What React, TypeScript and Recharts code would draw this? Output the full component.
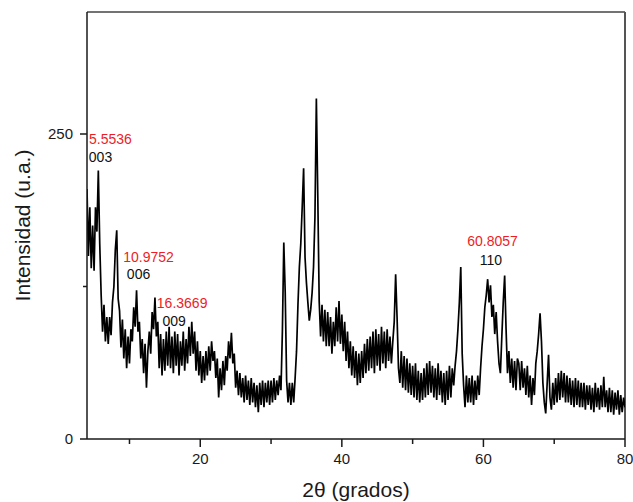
import React from "react";
import {
  Line,
  LineChart,
  ReferenceDot,
  ReferenceLine,
  XAxis,
  YAxis,
} from "recharts";

// scan settings of the diffractogram (2θ start and step, degrees)
const scanStart = 4;
const scanStep = 0.2;

// intensity, one row per degree (4.0, 4.2 ... 4.8)
const intensity = [
  205, 150, 190, 140, 175,
  138, 190, 170, 220, 160,
  118, 88, 110, 80, 100,
  78, 100, 85, 112, 125,
  155, 171, 115, 105, 75,
  98, 66, 90, 58, 84,
  62, 90, 80, 108, 92,
  122, 88, 96, 66, 82,
  54, 78, 42, 72, 88,
  70, 104, 90, 116, 84,
  96, 58, 86, 52, 82,
  56, 88, 60, 92, 58,
  84, 54, 88, 60, 86,
  52, 80, 60, 88, 56,
  82, 62, 92, 68, 96,
  70, 88, 56, 80, 52,
  72, 46, 68, 48, 72,
  52, 76, 56, 80, 64,
  72, 50, 66, 34, 58,
  40, 64, 44, 68, 56,
  80, 66, 87, 62, 70,
  42, 56, 36, 54, 34,
  50, 30, 52, 32, 48,
  28, 50, 30, 46, 26,
  44, 22, 46, 28, 48,
  26, 46, 30, 48, 28,
  48, 30, 50, 32, 48,
  36, 52, 40, 88, 161,
  120, 48, 30, 46, 28,
  46, 30, 50, 72, 110,
  141, 160, 190, 222, 149,
  128, 112, 97, 106, 120,
  141, 182, 279, 200, 113,
  84, 110, 80, 106, 76,
  104, 76, 100, 70, 96,
  76, 108, 80, 113, 78,
  102, 72, 96, 64, 88,
  58, 80, 52, 76, 50,
  72, 44, 70, 46, 72,
  50, 78, 54, 82, 56,
  84, 58, 88, 54, 90,
  60, 86, 56, 92, 62,
  88, 58, 90, 64, 84,
  62, 80, 96, 135, 100,
  58, 46, 72, 42, 68,
  40, 66, 38, 62, 36,
  60, 34, 62, 32, 56,
  30, 54, 32, 58, 34,
  62, 36, 64, 38, 60,
  34, 58, 32, 62, 36,
  56, 30, 54, 28, 56,
  32, 60, 34, 58, 44,
  60, 72, 90, 112, 141,
  70, 44, 26, 52, 30,
  50, 30, 52, 28, 48,
  32, 52, 36, 58, 76,
  90, 108, 118, 131, 112,
  126, 100, 110, 86, 104,
  80, 62, 54, 84, 112,
  134, 90, 54, 72, 46,
  66, 42, 64, 40, 66,
  62, 40, 64, 42, 58,
  36, 60, 34, 52, 28,
  50, 36, 62, 72, 86,
  103, 80, 46, 30, 21,
  45, 69, 34, 24, 46,
  28, 50, 30, 54, 32,
  56, 34, 54, 30, 52,
  30, 50, 28, 48, 26,
  50, 28, 48, 26, 46,
  26, 46, 24, 44, 28,
  44, 24, 42, 22, 46,
  26, 42, 24, 44, 26,
  51, 26, 40, 22, 42,
  22, 40, 20, 38, 24,
  40, 20, 36, 22, 34,
  26,
];

const xTicks = [10, 20, 30, 40, 50, 60, 70, 80];
const yTicks = [0, 125, 250];

// peak annotations: angle text, Miller index, and where each is written
const peakText = ["5.5536", "10.9752", "16.3669", "60.8057"];
const peakHkl = ["003", "006", "009", "110"];
const textAt = [
  { x: 7.32, y: 246, hx: 5.91, hy: 231 },
  { x: 12.7, y: 149, hx: 11.28, hy: 135 },
  { x: 17.44, y: 111.5, hx: 16.3, hy: 97 },
  { x: 61.28, y: 162, hx: 61.07, hy: 147 },
];

const data = intensity.map((v, i) => ({
  angle: +(scanStart + i * scanStep).toFixed(1),
  intensity: v,
}));

const font = "'Liberation Sans', Arial, Helvetica, sans-serif";
const ink = "#1a1a1a";

const XTick = (props: any) => {
  const { x, y, payload } = props;
  const major = payload.value % 20 === 0;
  return (
    <g>
      <line x1={x} y1={y} x2={x} y2={y + (major ? 8 : 5)} stroke={ink} strokeWidth={1.5} />
      {major && (
        <text x={x} y={y + 25} textAnchor="middle" fontSize={15} fill={ink} fontFamily={font}>
          {payload.value}
        </text>
      )}
    </g>
  );
};

const YTick = (props: any) => {
  const { x, y, payload } = props;
  const major = payload.value % 250 === 0;
  return (
    <g>
      <line x1={x} y1={y} x2={x - (major ? 7 : 4)} y2={y} stroke={ink} strokeWidth={1.5} />
      {major && (
        <text x={x - 14} y={y + 5} textAnchor="end" fontSize={15} fill={ink} fontFamily={font}>
          {payload.value}
        </text>
      )}
    </g>
  );
};

const YTitle = (props: any) => {
  const { viewBox } = props;
  const cx = viewBox.x + 22;
  const cy = viewBox.y + viewBox.height / 2;
  return (
    <text
      x={cx}
      y={cy}
      transform={`rotate(-90 ${cx} ${cy})`}
      textAnchor="middle"
      dominantBaseline="central"
      fontSize={21}
      fill={ink}
      fontFamily={font}
    >
      Intensidad (u.a.)
    </text>
  );
};

const XTitle = (props: any) => {
  const { viewBox } = props;
  const cx = viewBox.x + viewBox.width / 2;
  return (
    <text x={cx} y={viewBox.y + 58} textAnchor="middle" fontSize={21} fill={ink} fontFamily={font}>
      2θ (grados)
    </text>
  );
};

export default function App() {
  return (
    <div style={{ position: "absolute", left: 0, top: 0, background: "#fff" }}>
      <LineChart
        width={633}
        height={502}
        data={data}
        margin={{ top: 12, right: 8, left: 0, bottom: 0 }}
      >
        <XAxis
          dataKey="angle"
          type="number"
          domain={[4, 80]}
          ticks={xTicks}
          interval={0}
          allowDataOverflow
          height={63}
          tickSize={0}
          tickMargin={0}
          tickLine={false}
          tick={<XTick />}
          axisLine={{ stroke: ink, strokeWidth: 1.5 }}
          label={<XTitle />}
        />
        <YAxis
          type="number"
          domain={[0, 350]}
          ticks={yTicks}
          interval={0}
          allowDataOverflow
          width={87}
          tickSize={0}
          tickMargin={0}
          tickLine={false}
          tick={<YTick />}
          axisLine={{ stroke: ink, strokeWidth: 1.5 }}
          label={<YTitle />}
        />
        <ReferenceLine y={350} stroke="#444" strokeWidth={1.5} />
        <ReferenceLine x={80} stroke="#555" strokeWidth={2} />
        <Line
          type="linear"
          dataKey="intensity"
          stroke="#000"
          strokeWidth={1.7}
          dot={false}
          isAnimationActive={false}
        />
        {textAt.map((p, i) => (
          <ReferenceDot
            key={"t" + i}
            x={p.x}
            y={p.y}
            r={0}
            fill="none"
            stroke="none"
            label={{ value: peakText[i], position: "center", fill: "#ee1c25", fontSize: 14, fontFamily: font }}
          />
        ))}
        {textAt.map((p, i) => (
          <ReferenceDot
            key={"h" + i}
            x={p.hx}
            y={p.hy}
            r={0}
            fill="none"
            stroke="none"
            label={{ value: peakHkl[i], position: "center", fill: "#111", fontSize: 14, fontFamily: font }}
          />
        ))}
      </LineChart>
    </div>
  );
}
